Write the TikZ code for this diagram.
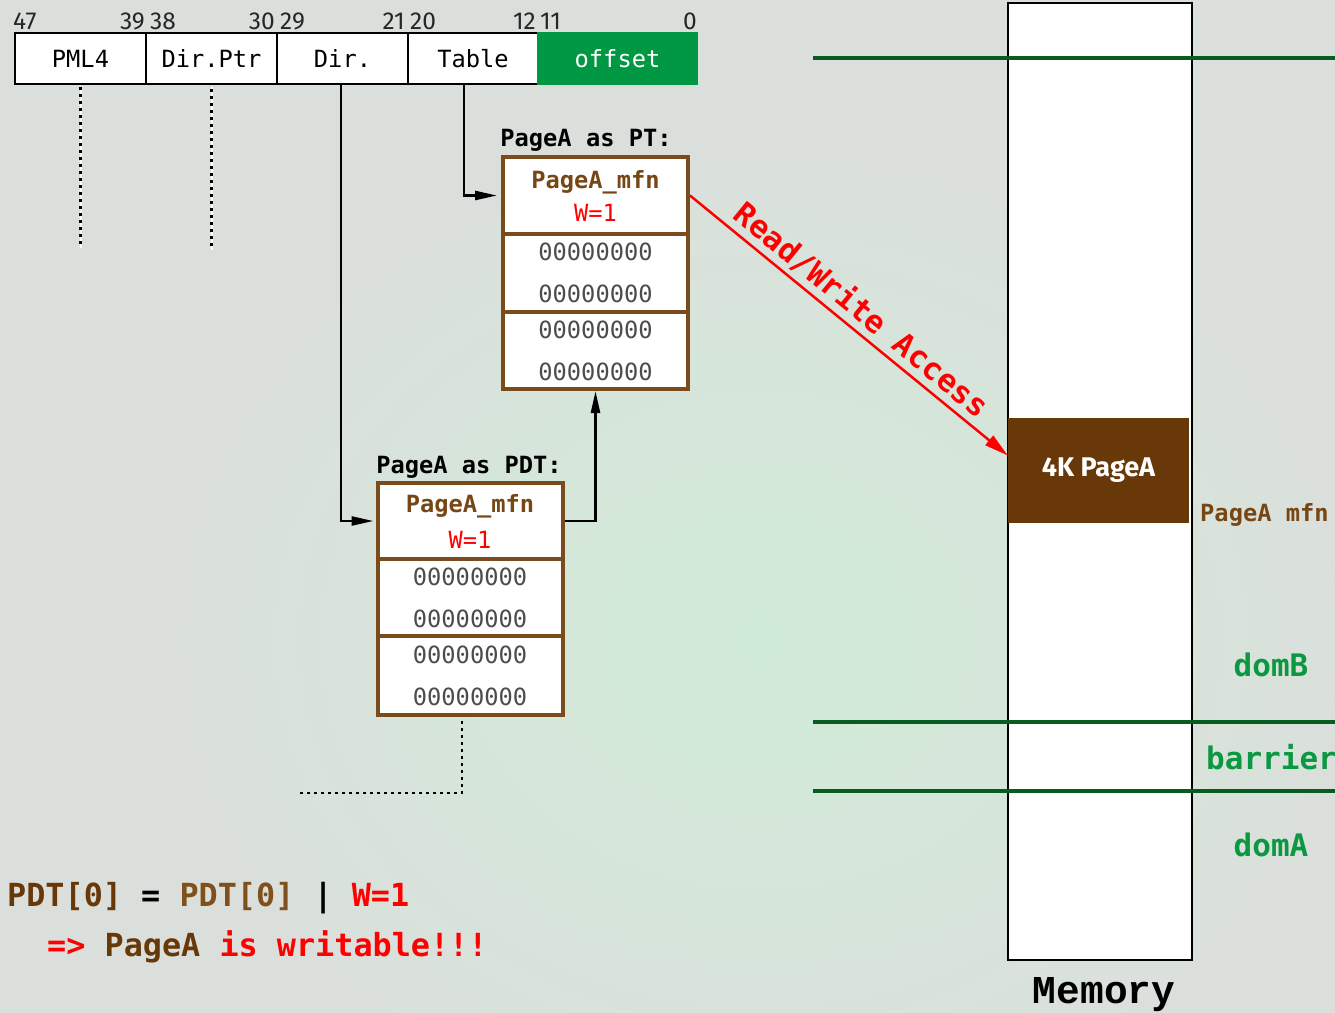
\documentclass[tikz,border=0pt]{standalone}
\usepackage{fontspec}
\setmainfont{Fira Sans}
\newfontfamily\dm{DejaVu Sans Mono}
\newfontfamily\lm{Liberation Mono}
\usetikzlibrary{arrows.meta}
\definecolor{bg}{RGB}{219,223,220}
\definecolor{glow}{RGB}{208,236,216}
\definecolor{brownbox}{RGB}{122,76,28}
\definecolor{browntext}{RGB}{118,70,20}
\definecolor{darkbrown}{RGB}{104,56,8}
\definecolor{brownlt}{RGB}{128,80,28}
\definecolor{offgreen}{RGB}{0,152,66}
\definecolor{lgreen}{RGB}{8,92,34}
\definecolor{tgreen}{RGB}{10,152,64}
\definecolor{wred}{RGB}{255,0,0}
\newcommand{\pxsize}[1]{\fontsize{#1}{#1}\selectfont}
\newcommand{\pxsz}[2]{\fontsize{#1}{#2}\selectfont}
\begin{document}
\begin{tikzpicture}[x=1pt,y=-1pt,
  field/.style={draw=black, line width=2.5pt, fill=white, minimum height=51pt, inner sep=0pt, font=\dm\pxsize{23.7}},
  bitnum/.style={font=\pxsize{24.5}, inner sep=0pt, text=black!85},
  cell/.style={draw=brownbox, line width=4pt, fill=white, minimum width=185pt, inner sep=0pt, align=center, font=\dm\pxsz{23.7}{42}, text=black!70},
  headcell/.style={cell, font=\dm\bfseries\pxsz{23.7}{33}, text=browntext},
  title/.style={font=\dm\bfseries\pxsize{23.7}, text=black, inner sep=0pt},
  conn/.style={draw=black, line width=2.5pt, -{Triangle[length=22pt,width=9pt]}},
  dotline/.style={draw=black, line width=2.5pt, dash pattern=on 3pt off 4pt},
  glin/.style={draw=lgreen, line width=4.5pt},
  dom/.style={font=\dm\bfseries\pxsize{31}, text=tgreen, inner sep=0pt},
]
\useasboundingbox (0,0) rectangle (1335,1012);
% background
\begin{scope}
\clip (-6,-6) rectangle (1341,1018);
\fill[bg] (-6,-6) rectangle (1341,1018);
\shade[inner color=glow, outer color=bg] (160,140) rectangle (1360,1140);
\end{scope}

% address fields
\node[field, minimum width=131pt] (pmlf) at (80.5,58.5) {PML4};
\node[field, minimum width=131pt] (dptrf) at (211.5,58.5) {Dir.Ptr};
\node[field, minimum width=131pt] (dirf) at (342.5,58.5) {Dir.};
\node[field, minimum width=130pt] (tablef) at (473,58.5) {Table};
\node[field, draw=offgreen, fill=offgreen, text=white, minimum width=159pt] (offf) at (617.5,58.5) {offset};

% bit numbers
\node[bitnum, anchor=base west] (b47) at (13,29) {47};
\node[bitnum, anchor=base east] (b39) at (145,29) {39};
\node[bitnum, anchor=base west] (b38) at (150,29) {38};
\node[bitnum, anchor=base east] (b30) at (275,29) {30};
\node[bitnum, anchor=base west] (b29) at (280,29) {29};
\node[bitnum, anchor=base east] (b21) at (405,29) {21};
\node[bitnum, anchor=base west] (b20) at (410,29) {20};
\node[bitnum, anchor=base east] (b12) at (536,29) {12};
\node[bitnum, anchor=base west] (b11) at (540,29) {11};
\node[bitnum, anchor=base east] (b0) at (697,29) {0};

% PT table
\node[title] (pttitle) at (586,140) {PageA as PT:};
\node[headcell, minimum height=77pt] (pthead) at (595.5,195.5) {PageA\_mfn\\{\color{wred}\mdseries W=1}};
\node[cell, minimum height=78pt] (pt1) at (595.5,273) {00000000\\00000000};
\node[cell, minimum height=77pt] (pt2) at (595.5,350.5) {00000000\\00000000};

% PDT table
\node[title] (pdttitle) at (469,467) {PageA as PDT:};
\node[headcell, font=\dm\bfseries\pxsz{23.7}{36}, minimum height=76pt] (pdthead) at (470,521) {PageA\_mfn\\{\color{wred}\mdseries W=1}};
\node[cell, minimum height=77pt] (pdt1) at (470,597.5) {00000000\\00000000};
\node[cell, minimum height=79pt] (pdt2) at (470,675.5) {00000000\\00000000};

% dotted lines
\coordinate (d1) at (80.5,248);
\coordinate (d2) at (211.5,250);
\coordinate (d3) at (298,793);
\draw[white, line width=2pt] ([yshift=-2pt]pmlf.south) -- (d1);
\draw[white, line width=2pt] ([yshift=-2pt]dptrf.south) -- (d2);
\draw[dotline] ([yshift=-2pt]pmlf.south) -- (d1);
\draw[dotline] ([yshift=-4pt]dptrf.south) -- (d2);
\draw[dotline] ([xshift=-8pt,yshift=-4pt]pdt2.south) |- (d3);

% connectors
\draw[conn, shorten >=2pt] ([xshift=-1.5pt]dirf.south) |- (pdthead.west);
\draw[conn, shorten >=4pt] ([xshift=-9pt]tablef.south) |- (pthead.west);
\draw[conn] (pdthead.east) -| (pt2.south);

% memory
\node[draw=black, line width=2.5pt, fill=white, minimum width=184pt, minimum height=957pt, inner sep=0pt] (mem) at (1100,481.5) {};
\node[fill=darkbrown, minimum width=181pt, minimum height=105pt, inner sep=0pt, text=white, font=\bfseries\pxsize{27}] (pagea) at (1098.5,470.5) {4K PageA};
\node[font=\dm\bfseries\pxsize{23.7}, text=browntext, anchor=west, inner sep=0pt] (mfnlbl) at (1200,515) {PageA mfn};
\draw[glin] (813,58) -- (1335,58);
\draw[glin] (813,722) -- (1335,722);
\draw[glin] (813,791) -- (1335,791);
\node[dom] (domb) at (1271,665) {domB};
\node[dom, anchor=west] (barr) at (1206,757) {barrier};
\node[dom] (doma) at (1271,845) {domA};
\node[font=\lm\bfseries\pxsize{39.5}, anchor=base, inner sep=0pt] (memlbl) at (1104,1003) {Memory};

% read/write arrow
\draw[draw=wred, line width=2.5pt, -{Triangle[length=24pt,width=12pt]}] (pthead.east) -- ([yshift=15pt]pagea.west)
  node[midway, sloped, above=5pt, font=\dm\bfseries\pxsize{31}, text=wred, inner sep=0pt] (rwlbl) {Read/Write Access};

% bottom text
\node[anchor=base west, inner sep=0pt, font=\dm\bfseries\pxsize{31.8}] (eq1) at (7,906)
  {\color{darkbrown}PDT[0] \color{black}= \color{brownlt}PDT[0] \color{black}| \color{wred}W=1};
\node[anchor=base west, inner sep=0pt, font=\dm\bfseries\pxsize{31.8}] (eq2) at (47,956)
  {\color{wred}=> \color{darkbrown}PageA \color{wred}is writable!!!};
\end{tikzpicture}
\end{document}
